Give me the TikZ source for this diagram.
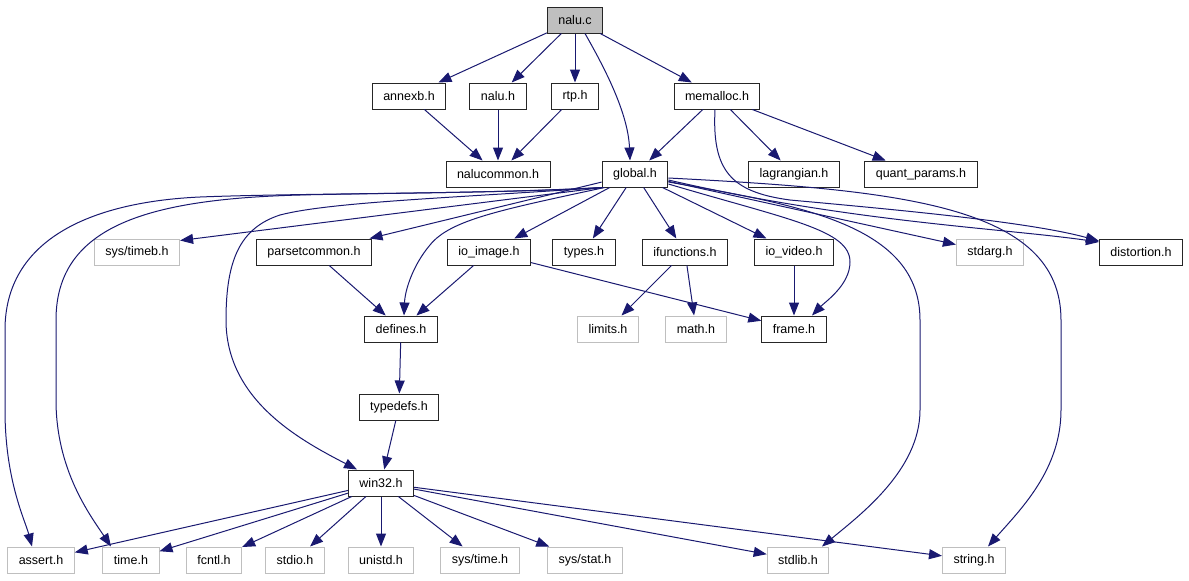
\documentclass[tikz,border=0pt]{standalone}
\usepackage{fontspec}
\setsansfont{Liberation Sans}
\usepackage{tikz}
\usetikzlibrary{positioning,arrows.meta}
\definecolor{incblue}{HTML}{191970}
\definecolor{srcgray}{HTML}{BFBFBF}
\newcommand{\hdrfont}{\sffamily\fontsize{12.5pt}{14pt}\selectfont}

\begin{document}
\begin{tikzpicture}[x=1pt, y=-1pt, on grid,
	hdr/.style={draw=black!85, line width=1pt, fill=white, minimum height=26pt, inner xsep=11pt, inner ysep=0pt, font=\hdrfont},
	syshdr/.style={hdr, draw=srcgray},
	inc/.style={color=incblue, line width=1pt, -{Triangle[length=13pt, width=10pt]}}]
\useasboundingbox (0,0) rectangle (1189,581);

\node[hdr, fill=srcgray]	(nalu_c)	at (575,20)					{nalu.c};
\node[hdr]		(annexb_h)		[below left=76pt and 166pt of nalu_c]		{annexb.h};
\node[hdr]		(nalu_h)		[below left=76pt and 77pt of nalu_c]		{nalu.h};
\node[hdr]		(rtp_h)			[below=76pt of nalu_c]				{rtp.h};
\node[hdr]		(memalloc_h)		[below right=76pt and 142pt of nalu_c]		{memalloc.h};
\node[hdr]		(nalucommon_h)		[below=78pt of nalu_h]				{nalucommon.h};
\node[hdr]		(global_h)		[below left=78pt and 82pt of memalloc_h]	{global.h};
\node[hdr]		(lagrangian_h)		[below right=78pt and 77pt of memalloc_h]	{lagrangian.h};
\node[hdr]		(quant_params_h)	[right=127pt of lagrangian_h]			{quant\_params.h};
\node[syshdr]		(sys_timeb_h)		[below left=78pt and 498pt of global_h]		{sys/timeb.h};
\node[hdr]		(parsetcommon_h)	[right=177pt of sys_timeb_h]			{parsetcommon.h};
\node[hdr]		(io_image_h)		[right=175pt of parsetcommon_h]			{io\_image.h};
\node[hdr]		(types_h)		[right=95pt of io_image_h]			{types.h};
\node[hdr]		(ifunctions_h)		[right=101pt of types_h]			{ifunctions.h};
\node[hdr]		(io_video_h)		[right=109pt of ifunctions_h]			{io\_video.h};
\node[syshdr]		(stdarg_h)		[right=196pt of io_video_h]			{stdarg.h};
\node[hdr]		(distortion_h)		[right=151pt of stdarg_h]			{distortion.h};
\node[hdr]		(defines_h)		[below left=77pt and 88pt of io_image_h]	{defines.h};
\node[syshdr]		(limits_h)		[below right=77pt and 24pt of types_h]		{limits.h};
\node[syshdr]		(math_h)		[right=88pt of limits_h]			{math.h};
\node[hdr]		(frame_h)		[below=77pt of io_video_h]			{frame.h};
\node[hdr]		(typedefs_h)		[below left=78pt and 2pt of defines_h]		{typedefs.h};
\node[hdr]		(win32_h)		[below left=76pt and 18pt of typedefs_h]	{win32.h};
\node[syshdr]		(unistd_h)		[below=77pt of win32_h]				{unistd.h};
\node[syshdr]		(stdio_h)		[left=86pt of unistd_h]				{stdio.h};
\node[syshdr]		(fcntl_h)		[left=81pt of stdio_h]				{fcntl.h};
\node[syshdr]		(time_h)		[left=83pt of fcntl_h]				{time.h};
\node[syshdr]		(assert_h)		[left=90pt of time_h]				{assert.h};
\node[syshdr]		(sys_time_h)		[right=99pt of unistd_h]			{sys/time.h};
\node[syshdr]		(sys_stat_h)		[right=105pt of sys_time_h]			{sys/stat.h};
\node[syshdr]		(stdlib_h)		[right=213pt of sys_stat_h]			{stdlib.h};
\node[syshdr]		(string_h)		[right=176pt of stdlib_h]			{string.h};

\path[inc]	(nalu_c)	edge (annexb_h) edge (nalu_h) edge (rtp_h) edge (memalloc_h)
		(annexb_h)	edge (nalucommon_h)
		(nalu_h)	edge (nalucommon_h)
		(rtp_h)		edge (nalucommon_h)
		(memalloc_h)	edge (global_h) edge (lagrangian_h) edge (quant_params_h)
		(global_h)	edge (parsetcommon_h) edge (io_image_h) edge (types_h)
				edge (ifunctions_h) edge (io_video_h) edge (stdarg_h)
		([xshift=1pt]global_h.south west) edge ([yshift=-2pt]sys_timeb_h.north east)
		(parsetcommon_h) edge (defines_h)
		(io_image_h)	edge (defines_h) edge (frame_h)
		(ifunctions_h)	edge (limits_h) edge (math_h)
		(io_video_h)	edge (frame_h)
		(defines_h)	edge (typedefs_h)
		(typedefs_h)	edge (win32_h)
		(win32_h)	edge (assert_h) edge (time_h) edge (fcntl_h) edge (stdio_h) edge (unistd_h)
				edge (sys_time_h) edge (sys_stat_h) edge (stdlib_h) edge (string_h);

\draw[inc] ([xshift=10pt]nalu_c.south) .. controls (600,60) and (628,110) .. ([xshift=-5pt]global_h.north);
\draw[inc] ([xshift=-2pt]memalloc_h.south) .. controls (712,170) and (730,192) .. (790,200)
	.. controls (900,210) and (1030,222) .. ([yshift=11pt]distortion_h.west);
\draw[inc] ([yshift=-6pt]global_h.east) .. controls (850,222) and (1000,228) .. ([yshift=10pt]distortion_h.west);
\draw[inc] ([yshift=-10pt]global_h.east) .. controls (790,220) and (850,230) .. (850,262)
	.. controls (850,285) and (825,302) .. ([xshift=18pt]frame_h.north);
\draw[inc] ([yshift=-8pt]global_h.east) .. controls (800,205) and (920,225) .. (920,320) -- (920,410)
	.. controls (920,470) and (860,515) .. ([xshift=24pt]stdlib_h.north);
\draw[inc] ([yshift=-4pt]global_h.east) .. controls (900,190) and (1061,205) .. (1061,320) -- (1061,410)
	.. controls (1061,470) and (1020,510) .. ([xshift=14pt]string_h.north);
\draw[inc] ([xshift=3pt]global_h.south west) .. controls (500,210) and (450,220) .. (430,245)
	.. controls (413,265) and (405,290) .. ([xshift=3pt]defines_h.north);
\draw[inc] ([xshift=1pt]global_h.south west) .. controls (450,198) and (330,202) .. (280,215)
	.. controls (240,228) and (226,260) .. (226,320)
	.. controls (226,400) and (300,440) .. ([xshift=-24pt]win32_h.north);
\draw[inc] ([xshift=1pt]global_h.south west) .. controls (500,193) and (380,193) .. (300,195)
	.. controls (150,199) and (56,225) .. (56,320) -- (56,400)
	.. controls (56,470) and (90,515) .. ([xshift=-20pt]time_h.north);
\draw[inc] ([xshift=1pt]global_h.south west) .. controls (500,194) and (300,193) .. (200,197)
	.. controls (90,202) and (5,240) .. (5,330) -- (5,410)
	.. controls (5,480) and (25,520) .. ([xshift=-9pt]assert_h.north);
\end{tikzpicture}
\end{document}
